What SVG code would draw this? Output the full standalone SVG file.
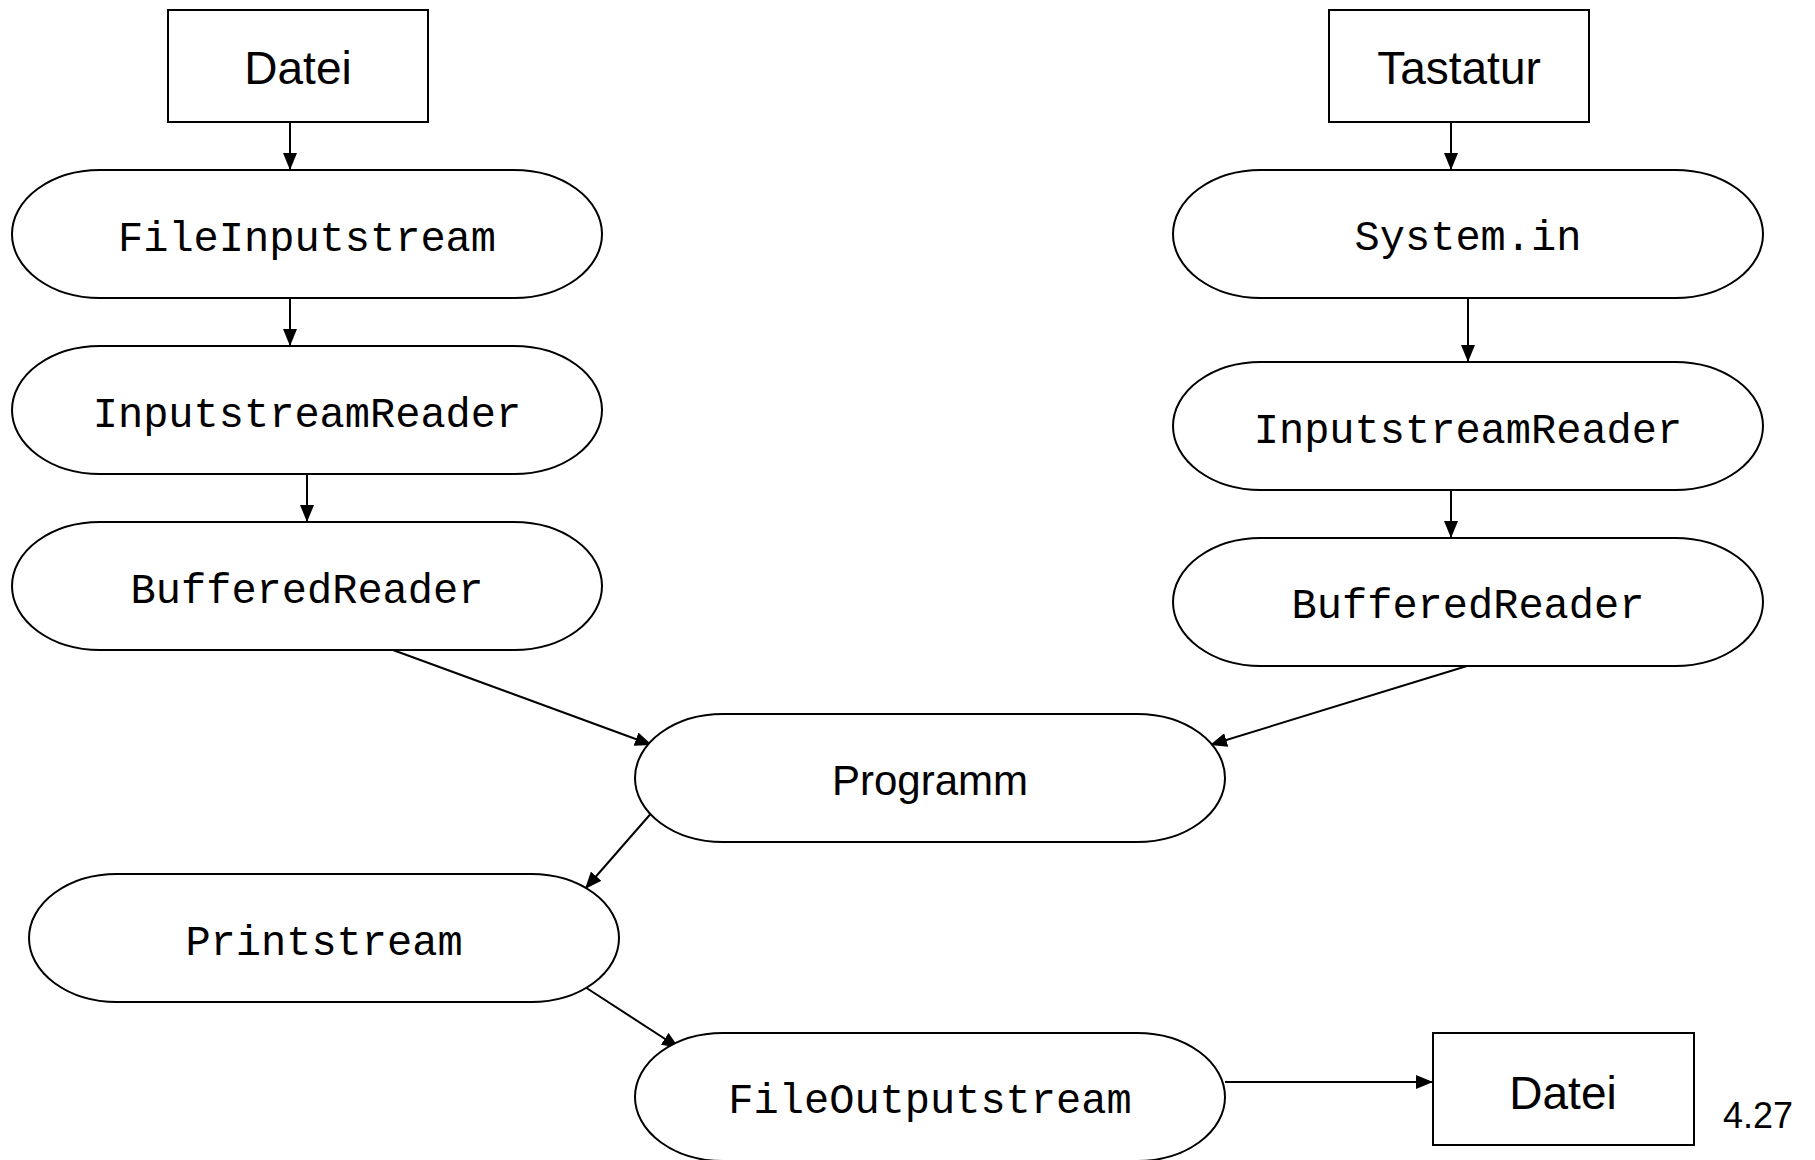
<svg xmlns="http://www.w3.org/2000/svg" width="1815" height="1160" viewBox="0 0 1815 1160">
<style>
.box{fill:#fff;stroke:#000;stroke-width:2}
.pill{fill:#fff;stroke:#000;stroke-width:2}
.sans{font-family:"Liberation Sans",Arial,sans-serif;fill:#000;text-anchor:middle}
.mono{font-family:"Liberation Mono","Courier New",monospace;font-size:42px;fill:#000;text-anchor:middle}
.edge{stroke:#000;stroke-width:2;fill:none;marker-end:url(#ah)}
</style>
<defs>
<marker id="ah" markerUnits="userSpaceOnUse" markerWidth="17" markerHeight="14" refX="17" refY="7" orient="auto">
<path d="M0,0 L17,7 L0,14 z" fill="#000"/>
</marker>
</defs>
<rect width="1815" height="1160" fill="#fff"/>
<g id="connectors">
<line class="edge" x1="290" y1="122" x2="290" y2="170"/>
<line class="edge" x1="290" y1="298" x2="290" y2="346"/>
<line class="edge" x1="307" y1="474" x2="307" y2="522"/>
<line class="edge" x1="1451" y1="122" x2="1451" y2="170"/>
<line class="edge" x1="1468" y1="298" x2="1468" y2="362"/>
<line class="edge" x1="1451" y1="490" x2="1451" y2="538"/>
<line class="edge" x1="393" y1="650" x2="652" y2="745"/>
<line class="edge" x1="1467" y1="666" x2="1210" y2="745"/>
<line class="edge" x1="654" y1="810" x2="585" y2="889"/>
<line class="edge" x1="585" y1="987" x2="679" y2="1048"/>
<line class="edge" x1="1225" y1="1082" x2="1433" y2="1082"/>
</g>
<g id="datei-in">
<rect class="box" x="168" y="10" width="260" height="112"/>
<text class="sans" x="298" y="84" font-size="46">Datei</text>
</g>
<g id="tastatur">
<rect class="box" x="1329" y="10" width="260" height="112"/>
<text class="sans" x="1459" y="84" font-size="46">Tastatur</text>
</g>
<g id="fileinputstream">
<rect class="pill" x="12" y="170" width="590" height="128" rx="88" ry="64"/>
<text class="mono" x="307" y="251">FileInputstream</text>
</g>
<g id="isr-left">
<rect class="pill" x="12" y="346" width="590" height="128" rx="88" ry="64"/>
<text class="mono" x="307" y="427">InputstreamReader</text>
</g>
<g id="br-left">
<rect class="pill" x="12" y="522" width="590" height="128" rx="88" ry="64"/>
<text class="mono" x="307" y="603">BufferedReader</text>
</g>
<g id="systemin">
<rect class="pill" x="1173" y="170" width="590" height="128" rx="88" ry="64"/>
<text class="mono" x="1468" y="250">System.in</text>
</g>
<g id="isr-right">
<rect class="pill" x="1173" y="362" width="590" height="128" rx="88" ry="64"/>
<text class="mono" x="1468" y="443">InputstreamReader</text>
</g>
<g id="br-right">
<rect class="pill" x="1173" y="538" width="590" height="128" rx="88" ry="64"/>
<text class="mono" x="1468" y="618">BufferedReader</text>
</g>
<g id="programm">
<rect class="pill" x="635" y="714" width="590" height="128" rx="88" ry="64"/>
<text class="sans" x="930" y="795" font-size="42">Programm</text>
</g>
<g id="printstream">
<rect class="pill" x="29" y="874" width="590" height="128" rx="88" ry="64"/>
<text class="mono" x="324" y="955">Printstream</text>
</g>
<g id="fileoutputstream">
<rect class="pill" x="635" y="1033" width="590" height="128" rx="88" ry="64"/>
<text class="mono" x="930" y="1113">FileOutputstream</text>
</g>
<g id="datei-out">
<rect class="box" x="1433" y="1033" width="261" height="112"/>
<text class="sans" x="1563" y="1109" font-size="46">Datei</text>
</g>
<text class="sans" x="1758" y="1128" font-size="36">4.27</text>
</svg>
